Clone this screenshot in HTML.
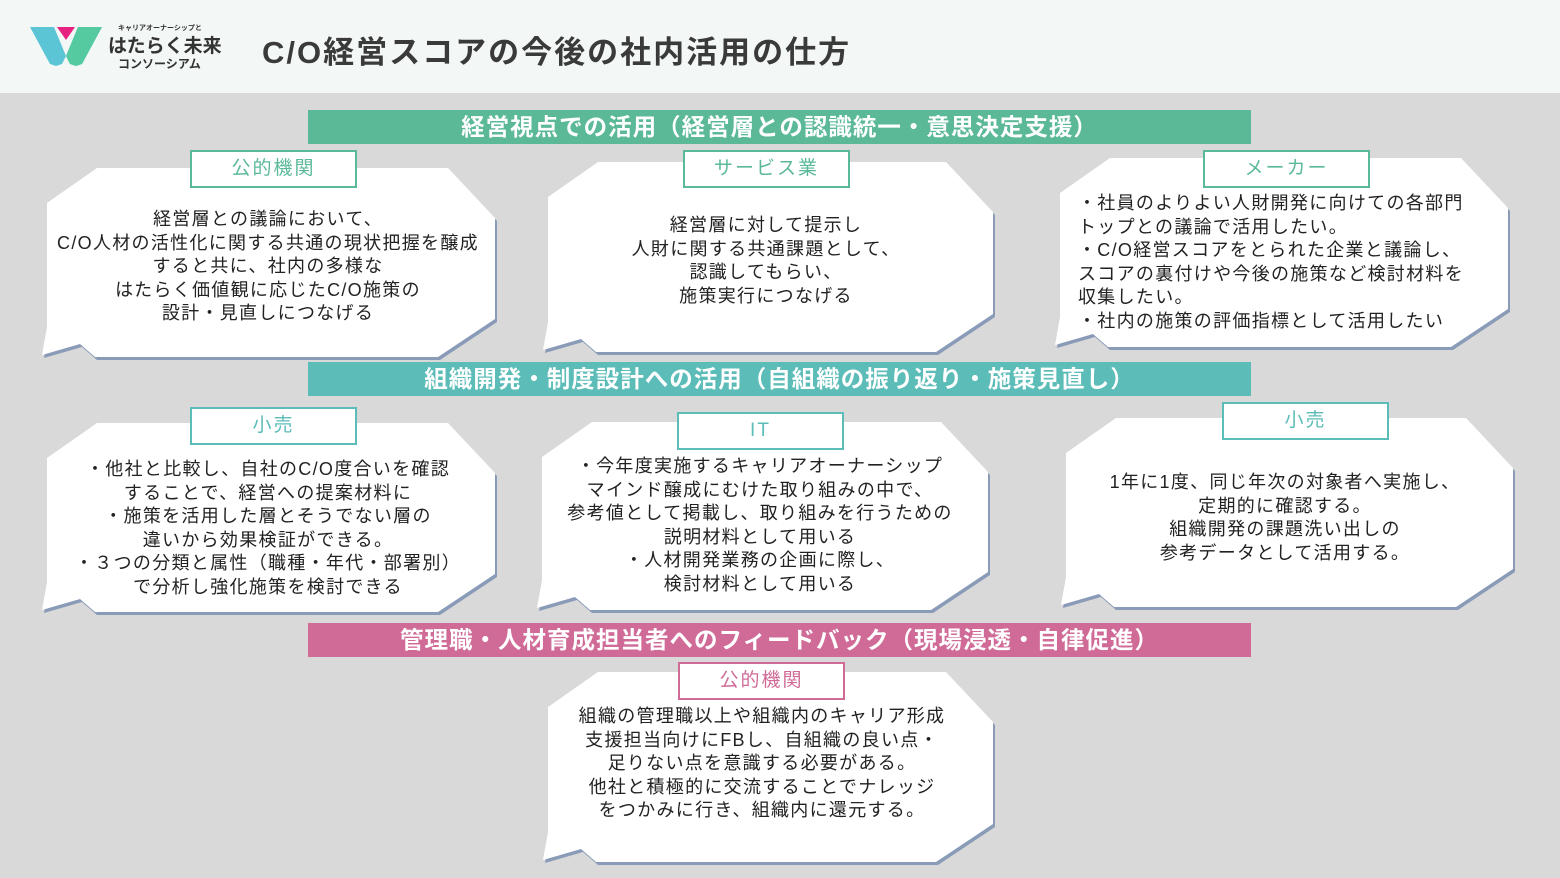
<!DOCTYPE html>
<html><head><meta charset="utf-8"><style>
*{margin:0;padding:0;box-sizing:border-box}
body{width:1560px;height:878px;position:relative;background:#d9d9d9;font-family:"Liberation Sans","Noto Sans CJK JP",sans-serif;overflow:hidden}
.hdr{position:absolute;left:0;top:0;width:1560px;height:93px;background:#f3f8f7}
.title{position:absolute;left:262px;top:27px;font-size:31px;font-weight:bold;color:#3a3a3a;letter-spacing:2px}
.ban{position:absolute;left:308px;width:943px;height:34px;color:#fff;font-weight:bold;font-size:23.5px;text-align:center;line-height:34px;letter-spacing:1px}
.lab{position:absolute;width:167px;height:38px;background:#fff;border:2px solid;text-align:center;font-size:19px;line-height:33px;letter-spacing:2px}
.t{position:absolute;font-size:18px;line-height:23.5px;color:#222;white-space:nowrap;letter-spacing:1.3px}
.c{text-align:center;transform:translateX(-50%)}
</style></head><body>
<div class="hdr"></div>
<svg style="position:absolute;left:0;top:0" width="1560" height="878">
<g transform="translate(30,26)">
<polygon points="0,1 24,1 36,30 48,1 72,1 52,38 46,40 40,38 36,30 32,38 26,40 20,38" fill="#5bc5d6"/>
<polygon points="36,30 48,1 72,1 52,38 46,40 40,38" fill="#55c9a0"/>
<polygon points="27,1 45,1 36,14" fill="#e6217f"/>
</g>
<text x="118" y="30" font-size="7" font-weight="bold" fill="#333" font-family="Noto Sans CJK JP">キャリアオーナーシップと</text>
<text x="108" y="52" font-size="19" font-weight="bold" fill="#333" font-family="Noto Sans CJK JP">はたらく未来</text>
<text x="118" y="68" font-size="12" font-weight="bold" fill="#333" font-family="Noto Sans CJK JP">コンソーシアム</text>
<g fill="#8a9bb8" transform="translate(2,3)">
<polygon points="97,168 448,168 495,218 495,319 438,357 95,357 80,344 42,355 47,327 47,203"/>
<polygon points="598,162 946,162 993,212 993,314 936,352 596,352 581,339 543,350 548,322 548,197"/>
<polygon points="1110,158 1461,158 1508,208 1508,309 1451,347 1108,347 1093,334 1055,345 1060,317 1060,193"/>
<polygon points="97,423 448,423 495,473 495,574 438,612 95,612 80,599 42,610 47,582 47,458"/>
<polygon points="592,422 941,422 988,472 988,572 931,610 590,610 575,597 537,608 542,580 542,457"/>
<polygon points="1116,418 1466,418 1513,468 1513,569 1456,607 1114,607 1099,594 1061,605 1066,577 1066,453"/>
<polygon points="598,672 946,672 993,722 993,824 936,862 596,862 581,849 543,860 548,832 548,707"/>
</g>
<g fill="#fff">
<polygon points="97,168 448,168 495,218 495,319 438,357 95,357 80,344 42,355 47,327 47,203"/>
<polygon points="598,162 946,162 993,212 993,314 936,352 596,352 581,339 543,350 548,322 548,197"/>
<polygon points="1110,158 1461,158 1508,208 1508,309 1451,347 1108,347 1093,334 1055,345 1060,317 1060,193"/>
<polygon points="97,423 448,423 495,473 495,574 438,612 95,612 80,599 42,610 47,582 47,458"/>
<polygon points="592,422 941,422 988,472 988,572 931,610 590,610 575,597 537,608 542,580 542,457"/>
<polygon points="1116,418 1466,418 1513,468 1513,569 1456,607 1114,607 1099,594 1061,605 1066,577 1066,453"/>
<polygon points="598,672 946,672 993,722 993,824 936,862 596,862 581,849 543,860 548,832 548,707"/>
</g>
</svg>
<div class="title">C/O経営スコアの今後の社内活用の仕方</div>
<div class="ban" style="top:110px;background:#5bb998">経営視点での活用（経営層との認識統一・意思決定支援）</div>
<div class="ban" style="top:362px;background:#5bbcb8">組織開発・制度設計への活用（自組織の振り返り・施策見直し）</div>
<div class="ban" style="top:623px;background:#d06b98">管理職・人材育成担当者へのフィードバック（現場浸透・自律促進）</div>

<div class="lab" style="left:190px;top:150px;border-color:#5bb998;color:#5bb998">公的機関</div>
<div class="lab" style="left:683px;top:150px;border-color:#5bb998;color:#5bb998">サービス業</div>
<div class="lab" style="left:1203px;top:150px;border-color:#5bb998;color:#5bb998">メーカー</div>
<div class="lab" style="left:190px;top:407px;border-color:#5bbcb8;color:#5bbcb8">小売</div>
<div class="lab" style="left:677px;top:412px;border-color:#5bbcb8;color:#5bbcb8">IT</div>
<div class="lab" style="left:1222px;top:402px;border-color:#5bbcb8;color:#5bbcb8">小売</div>
<div class="lab" style="left:678px;top:662px;border-color:#d06b98;color:#d06b98">公的機関</div>

<div class="t c" style="left:268px;top:208px">経営層との議論において、<br>C/O人材の活性化に関する共通の現状把握を醸成<br>すると共に、社内の多様な<br>はたらく価値観に応じたC/O施策の<br>設計・見直しにつなげる</div>
<div class="t c" style="left:766px;top:214px">経営層に対して提示し<br>人財に関する共通課題として、<br>認識してもらい、<br>施策実行につなげる</div>
<div class="t" style="left:1078px;top:192px">・社員のよりよい人財開発に向けての各部門<br>トップとの議論で活用したい。<br>・C/O経営スコアをとられた企業と議論し、<br>スコアの裏付けや今後の施策など検討材料を<br>収集したい。<br>・社内の施策の評価指標として活用したい</div>
<div class="t c" style="left:268px;top:458px">・他社と比較し、自社のC/O度合いを確認<br>することで、経営への提案材料に<br>・施策を活用した層とそうでない層の<br>違いから効果検証ができる。<br>・３つの分類と属性（職種・年代・部署別）<br>で分析し強化施策を検討できる</div>
<div class="t c" style="left:760px;top:455px">・今年度実施するキャリアオーナーシップ<br>マインド醸成にむけた取り組みの中で、<br>参考値として掲載し、取り組みを行うための<br>説明材料として用いる<br>・人材開発業務の企画に際し、<br>検討材料として用いる</div>
<div class="t c" style="left:1285px;top:471px">1年に1度、同じ年次の対象者へ実施し、<br>定期的に確認する。<br>組織開発の課題洗い出しの<br>参考データとして活用する。</div>
<div class="t c" style="left:762px;top:705px">組織の管理職以上や組織内のキャリア形成<br>支援担当向けにFBし、自組織の良い点・<br>足りない点を意識する必要がある。<br>他社と積極的に交流することでナレッジ<br>をつかみに行き、組織内に還元する。</div>
</body></html>
